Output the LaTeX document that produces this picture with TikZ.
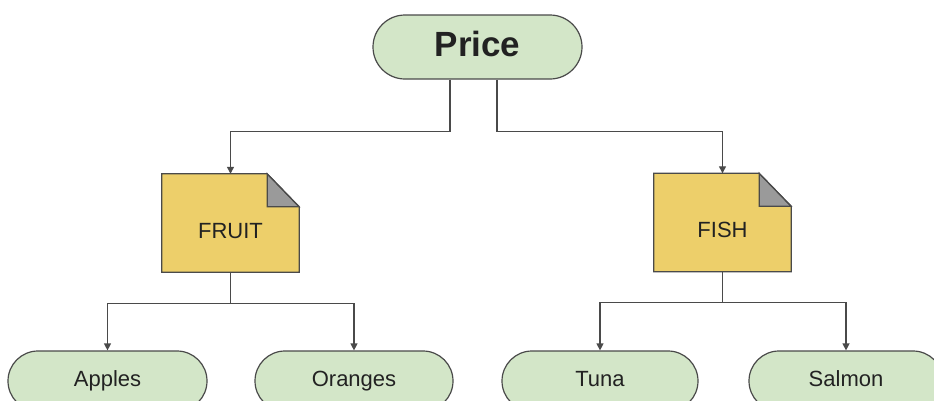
\documentclass[tikz,border=0pt]{standalone}
\usepackage{fontspec}
\setmainfont{Liberation Sans}
\usetikzlibrary{shapes.misc,arrows.meta}
\definecolor{leafgreen}{HTML}{D3E6C8}
\definecolor{docyellow}{HTML}{EDCF6A}
\definecolor{foldgray}{HTML}{9A9A9A}
\definecolor{edgegray}{HTML}{4A4A4A}
\definecolor{txt}{HTML}{222222}
\tikzset{
  pill/.style={rounded rectangle, draw=edgegray, line width=1.2pt, fill=leafgreen,
    text=txt, inner sep=0pt},
  leaf/.style={pill, minimum height=60pt, text height=16pt, text depth=5pt,
    font=\fontsize{22}{24}\selectfont},
  docbox/.style={rectangle, inner sep=0pt, minimum width=137pt, minimum height=98pt},
  doclabel/.style={inner sep=0pt, text height=16pt, text depth=0pt, text=txt,
    font=\fontsize{22}{24}\selectfont},
  conn/.style={draw=edgegray, line width=1.2pt},
  arr/.style={conn, -{Triangle[length=7pt,width=7pt]}}
}
\newcommand{\docshape}[1]{%
  \fill[docyellow] (#1.north west) -- ([xshift=-32pt]#1.north east) -- ([yshift=-33pt]#1.north east) -- (#1.south east) -- (#1.south west) -- cycle;
  \filldraw[fill=foldgray, draw=edgegray, line width=1.2pt] ([xshift=-32pt]#1.north east) -- ([xshift=-32pt,yshift=-33pt]#1.north east) -- ([yshift=-33pt]#1.north east) -- cycle;
  \draw[draw=edgegray, line width=1.2pt] (#1.north west) -- ([xshift=-32pt]#1.north east) -- ([yshift=-33pt]#1.north east) -- (#1.south east) -- (#1.south west) -- cycle;
}
\begin{document}
\begin{tikzpicture}[x=1pt,y=-1pt]
\useasboundingbox (0,0) rectangle (934,400);
\begin{scope}
\clip (0,0) rectangle (934,400);
\node[pill, minimum width=209pt, minimum height=64pt, text height=25pt, text depth=7pt,
  font=\fontsize{35}{38}\selectfont\bfseries] (price) at (477.5,47) {Price};

\node[docbox] (fruit) at (230.5,223) {};
\node[docbox] (fish) at (722.5,222.5) {};
\docshape{fruit}
\docshape{fish}
\node[doclabel] (fruitlabel) at ([yshift=-7pt]fruit.center) {FRUIT};
\node[doclabel] (fishlabel) at ([yshift=-7pt]fish.center) {FISH};

\node[leaf, minimum width=199pt] (apples) at (107.5,381) {Apples};
\node[leaf, minimum width=198pt] (oranges) at (354,381) {Oranges};
\node[leaf, minimum width=196pt] (tuna) at (600,381) {Tuna};
\node[leaf, minimum width=194pt] (salmon) at (846,381) {Salmon};

\draw[arr] ([xshift=-27.5pt]price.south) -- ++(0,52) -| (fruit.north);
\draw[arr] ([xshift=19.5pt]price.south) -- ++(0,52) -| (fish.north);
\draw[arr] (fruit.south) -- ++(0,31) -| (apples.north);
\draw[arr] (fruit.south) -- ++(0,31) -| (oranges.north);
\draw[arr] (fish.south) -- ++(0,31) -| (tuna.north);
\draw[arr] (fish.south) -- ++(0,31) -| (salmon.north);
\end{scope}
\end{tikzpicture}
\end{document}
